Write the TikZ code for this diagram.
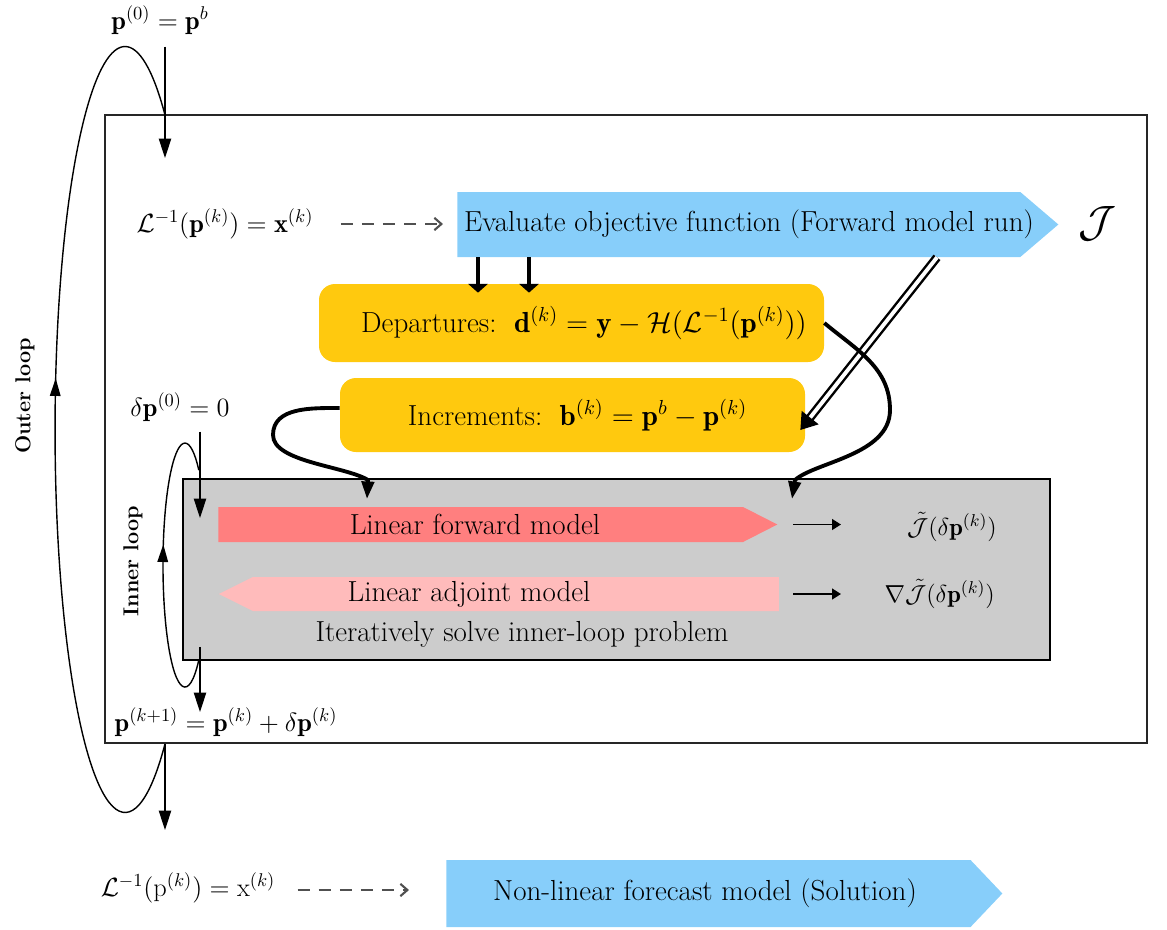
\documentclass[tikz,border=0pt]{standalone}
\usepackage{fix-cm}
\usepackage{amsmath,amssymb}
\usepackage{fontspec}
\usetikzlibrary{arrows.meta,shapes.symbols,decorations.markings,calc,fit}
\definecolor{skyb}{RGB}{135,206,250}
\definecolor{goldy}{RGB}{255,201,14}
\definecolor{redarr}{RGB}{255,127,127}
\definecolor{pinkarr}{RGB}{255,187,187}
\definecolor{grayfill}{RGB}{204,204,204}
\definecolor{dashgray}{RGB}{80,80,80}
\begin{document}
\begin{tikzpicture}[x=0.02cm,y=0.02cm,
  every node/.style={font=\fontsize{15}{18}\selectfont, inner sep=0pt},
  txt/.style={font=\fontsize{16.5}{19}\selectfont},
  wh/.style 2 args={minimum width={#1*0.02cm}, minimum height={#2*0.02cm}},
  yellowbox/.style={txt, fill=goldy, rounded corners=0.32cm},
  sig/.style={shape=signal, signal pointer angle=#1},
  looplabel/.style={font=\fontsize{12.3}{14}\selectfont\bfseries, rotate=90},
  thinarrow/.style={line width=0.7pt, -{Triangle[length=11pt,width=7pt]}},
  thickarrow/.style={line width=2.2pt, -{Triangle[length=5pt,width=11pt]}},
  curvearrow/.style={line width=2.2pt, -{Triangle[length=10pt,width=7pt]}},
  dblarrow/.style={double=white, double distance=2.2pt, line width=1.4pt, -{Triangle[length=9pt,width=12pt]}},
  smallarrow/.style={line width=1.1pt, -{Triangle[length=5pt,width=6pt]}},
  dasharrow/.style={dashgray, line width=1.2pt, dash pattern=on 7pt off 5pt, -{Straight Barb[length=4pt,width=7pt]}},
  loopline/.style={line width=0.8pt},
  midmark/.style={postaction={decorate}, decoration={markings, mark=at position #1 with {\arrow{Triangle[length=10pt,width=6pt]}}}},
]
\useasboundingbox (0,0) rectangle (1167,-930);

% helper coordinates
\coordinate (xo) at (165,0);
\coordinate (xi) at (200,0);
\coordinate (x1) at (478,0);
\coordinate (x2) at (529,0);
\coordinate (xd) at (937,0);
\coordinate (xL) at (367,0);
\coordinate (xR) at (792,0);

% outer box
\node[draw=black!85, line width=1.1pt, fit={(105,-115)(1147,-743)}] (outer) {};

% top
\node (p0) at (160,-20) {$\mathbf{p}^{(0)}=\mathbf{p}^{b}$};
\coordinate (p0tip) at (165,-158);
\draw[thinarrow] ($(p0.south -| xo)+(0,-12)$) -- (p0tip);

% outer loop (elliptical arc outside the box)
\draw[loopline, midmark=0.553] (outer.south -| xo) arc[start angle=-55.2, end angle=-304.8, x radius=70, y radius=383];
\node[looplabel] (outerlbl) at (25,-396) {Outer loop};

% evaluate
\node (linv) at (225,-224) {$\mathcal{L}^{-1}(\mathbf{p}^{(k)})=\mathbf{x}^{(k)}$};
\node[sig=81, signal to=east, fill=skyb, wh={601}{65}, anchor=west] (eval) at (457,-224.5) {};
\node[txt] (evaltxt) at (749,-224.5) {Evaluate objective function (Forward model run)};
\draw[dasharrow] ($(linv.east)+(27,0)$) -- ($(linv.east -| eval.west)+(-14,0)$);
\node (J) at (1097,-224) {\fontsize{25}{30}\selectfont$\mathcal{J}$};

% departures / increments
\node[yellowbox, wh={505}{78}] (dep) at (571.5,-323) {\hspace*{0.5cm}Departures:\ \ $\mathbf{d}^{(k)}=\mathbf{y}-\mathcal{H}(\mathcal{L}^{-1}(\mathbf{p}^{(k)}))$};
\node[yellowbox, wh={465}{74}] (inc) at (572.5,-415) {\hspace*{0.2cm}Increments:\ \ $\mathbf{b}^{(k)}=\mathbf{p}^{b}-\mathbf{p}^{(k)}$};

\draw[thickarrow] (eval.south -| x1) -- ($(dep.north -| x1)+(0,-9)$);
\draw[thickarrow] (eval.south -| x2) -- ($(dep.north -| x2)+(0,-9)$);
\draw[dblarrow] (eval.south -| xd) -- ($(inc.east)+(-5,-15)$);

% inner loop ellipse (right part hidden by the grey box)
\draw[loopline, midmark=0.565] (198.8,-660) arc[start angle=-51.1, end angle=-308.9, x radius=22, y radius=122];

% gray box
\node[draw, line width=1.1pt, fill=grayfill, wh={867}{181}] (gray) at (616.5,-569.5) {};
\node[sig=54, signal to=east, fill=redarr, wh={559}{35}, anchor=west] (fwd) at (218,-524.5) {};
\node[txt] (fwdtxt) at (475,-524.5) {Linear forward model};
\node[sig=53, signal to=west, fill=pinkarr, wh={560}{34}, anchor=west] (adj) at (218,-594) {};
\node[txt] (adjtxt) at (469,-594) {Linear adjoint model};
\node[txt] (iter) at (522,-634) {Iteratively solve inner-loop problem};

\node[anchor=east] (jt1) at (997,-527) {\fontsize{14}{16}\selectfont$\tilde{\mathcal{J}}(\delta\mathbf{p}^{(k)})$};
\node[anchor=east] (jt2) at (995,-594) {\fontsize{14}{16}\selectfont$\nabla\tilde{\mathcal{J}}(\delta\mathbf{p}^{(k)})$};
\coordinate (e1) at (841,-524.5);
\coordinate (e2) at (841,-594);
\draw[smallarrow] ($(fwd.east)+(15,0)$) -- (e1);
\draw[smallarrow] ($(adj.east)+(14,0)$) -- (e2);

% curved thick arrows into gray box
\draw[curvearrow] ($(inc.west)+(0,7)$) to[out=180,in=90] (273,-435)
   .. controls (273,-462) and (345,-466) .. (368,-480) -- ($(gray.north -| xL)+(0,-21)$);
\draw[curvearrow] (dep.east) to[out=-40,in=90] (890,-410)
   .. controls (890,-455) and (815,-462) .. (795,-480) -- ($(gray.north -| xR)+(0,-21)$);

% inner loop arrows
\node (dp0) at (180,-407) {$\delta\mathbf{p}^{(0)}=0$};
\coordinate (ti1) at (200,-518);
\draw[thinarrow] ($(dp0.south -| xi)+(0,-10)$) -- (ti1);
\node (pk1) at (226,-722) {$\mathbf{p}^{(k+1)}=\mathbf{p}^{(k)}+\delta\mathbf{p}^{(k)}$};
\coordinate (ti2) at (200,-712);
\draw[thinarrow] ($(gray.south -| xi)+(0,14)$) -- (ti2);
\node[looplabel] (innerlbl) at (133,-561) {Inner loop};

% exit arrow
\coordinate (co) at (165,-830);
\draw[thinarrow] (outer.south -| xo) -- (co);

% bottom
\node (linv2) at (188,-888) {$\mathcal{L}^{-1}(\mathrm{p}^{(k)})=\mathrm{x}^{(k)}$};
\node[sig=93, signal to=east, fill=skyb, wh={556}{67}, anchor=west] (nonlin) at (446,-893.5) {};
\node[txt] (nonlintxt) at (705,-893.5) {Non-linear forecast model (Solution)};
\draw[dasharrow] ($(linv2.east)+(22,-2)$) -- ($(linv2.east -| nonlin.west)+(-37,-2)$);
\end{tikzpicture}
\end{document}
